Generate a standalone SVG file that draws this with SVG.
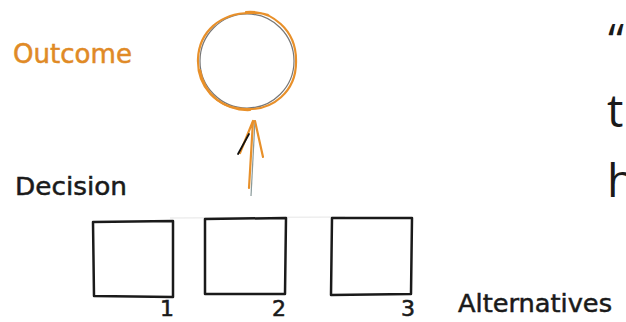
<svg xmlns="http://www.w3.org/2000/svg" width="626" height="322" viewBox="0 0 626 322">
<style>
.hand{font-family:"DejaVu Sans","Liberation Sans",sans-serif;stroke-width:0.5;}
.box{fill:none;stroke:#1a1a1a;stroke-width:2.5;stroke-linejoin:round;stroke-linecap:round;}
.num{font-family:"DejaVu Sans","Liberation Sans",sans-serif;font-size:22px;fill:#1a1a1a;stroke:#1a1a1a;stroke-width:0.6;}
.big{font-family:"Open Sans","Noto Sans","Liberation Sans",sans-serif;font-size:46px;fill:#1a1a1a;}
.or{fill:none;stroke:#e8902a;stroke-width:2.2;stroke-linecap:round;}
</style>
<rect width="626" height="322" fill="#ffffff"/>
<g id="outcome-label"><text class="hand" x="13" y="63" font-size="26" fill="#e08a26" stroke="#e08a26" textLength="119" lengthAdjust="spacingAndGlyphs">Outcome</text></g>
<g id="outcome">
<circle cx="247" cy="61" r="47" fill="#ffffff" stroke="#777" stroke-width="1.2"/>
<path class="or" d="M246 12 C272 10 296 30 296 60 C297 92 272 111 245 109 C216 108 197 86 198 59 C199 32 220 13 250 13 C263 12 270 16 268 15"/>
<path class="or" d="M200 70 C204 95 225 111 250 110" stroke-width="1.4"/>
</g>
<g id="decision-label"><text class="hand" x="15" y="195" font-size="24" fill="#1a1a1a" stroke="#1a1a1a" textLength="112" lengthAdjust="spacingAndGlyphs">Decision</text></g>
<g id="connectors">
<line x1="251" y1="196" x2="255" y2="120" stroke="#8a9a9a" stroke-width="1.2"/>
<path class="or" d="M249 188 L253 121 M253 121 L240 153 M255 121 L263 157"/>
<line x1="238" y1="154" x2="249" y2="134" stroke="#111" stroke-width="1.8" stroke-linecap="round"/>
</g>
<line x1="170" y1="218" x2="345" y2="217" stroke="#eeeeee" stroke-width="1.5"/>
<g id="alt1"><path class="box" d="M93 222 L173 221 L173 297 L94 296 Z"/><text class="num" x="160" y="316">1</text></g>
<g id="alt2"><path class="box" d="M205 219 L286 218 L285 294 L205 294 Z"/><text class="num" x="272" y="316">2</text></g>
<g id="alt3"><path class="box" d="M332 218 L412 218 L411 294 L331 295 Z"/><text class="num" x="401" y="316">3</text></g>
<g id="alternatives-label"><text class="hand" x="458" y="312" font-size="24" fill="#1a1a1a" stroke="#1a1a1a" textLength="154" lengthAdjust="spacingAndGlyphs">Alternatives</text></g>
<g id="side-text">
<text class="big" x="608" y="57">“</text>
<text class="big" x="607" y="127">t</text>
<text class="big" x="607" y="197">h</text>
</g>
</svg>
